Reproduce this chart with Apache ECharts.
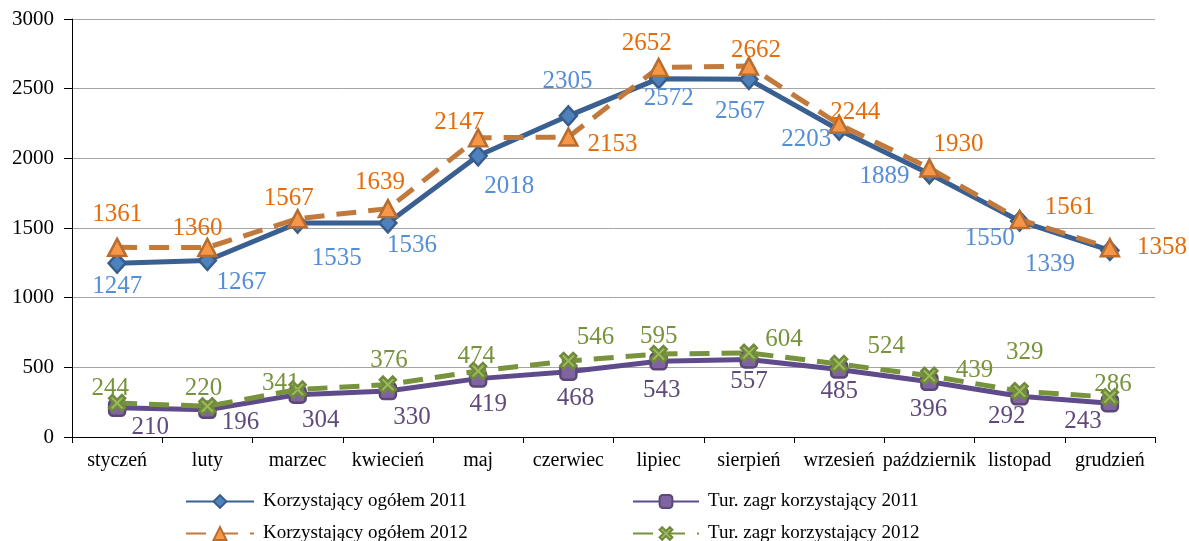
<!DOCTYPE html>
<html>
<head>
<meta charset="utf-8">
<title>Korzystający 2011-2012</title>
<script src="https://cdn.jsdelivr.net/npm/echarts@6/dist/echarts.min.js"></script>
<style>
  html, body { margin: 0; padding: 0; background: #fff; }
  #main { width: 1189px; height: 541px; }
</style>
</head>
<body>
<div id="main"></div>
<script>
// NOTE - Data

const months = ['styczeń', 'luty', 'marzec', 'kwiecień', 'maj', 'czerwiec',
  'lipiec', 'sierpień', 'wrzesień', 'październik', 'listopad', 'grudzień'];

const ogolem2011 = [1247, 1267, 1535, 1536, 2018, 2305, 2572, 2567, 2203, 1889, 1550, 1339];
const ogolem2012 = [1361, 1360, 1567, 1639, 2147, 2153, 2652, 2662, 2244, 1930, 1561, 1358];
const zagr2011 = [210, 196, 304, 330, 419, 468, 543, 557, 485, 396, 292, 243];
const zagr2012 = [244, 220, 341, 376, 474, 546, 595, 604, 524, 439, 329, 286];

const yTicks = { min: 0, max: 3000, step: 500 };

// NOTE - Label placement (offset from marker centre, px)

const offOgolem2011 = [[0, 23], [34, 22], [39, 35], [24, 22], [31, 31], [-1, -34],
  [10, 20], [-9, 32], [-33, 9], [-45, 3], [-30, 17], [-60, 14]];
const offOgolem2012 = [[0, -33], [-10, -19], [-9, -20], [-8, -26], [-19, -15], [44, 7],
  [-12, -24], [7, -16], [16, -12], [29, -24], [50, -12], [52, 0]];
const offZagr2011 = [[33, 20], [33, 13], [23, 26], [24, 26], [10, 26], [7, 27],
  [3, 29], [0, 22], [0, 22], [-1, 28], [-13, 20], [-27, 18]];
const offZagr2012 = [[-7, -15], [-4, -18], [-17, -6], [1, -24], [-2, -15], [27, -23],
  [0, -18], [35, -13], [47, -18], [45, -5], [5, -39], [3, -13]];

const FONT = '"Liberation Serif", "Times New Roman", serif';
const crossPath = 'path://M2,0 L5,3 L8,0 L10,2 L7,5 L10,8 L8,10 L5,7 L2,10 L0,8 L3,5 L0,2 Z';

function withLabels(values, offsets) {
  return values.map((v, i) => ({ value: v, label: { offset: offsets[i] } }));
}

function makeSeries(name, values, offsets, lineColor, dash, symbol, size, fill, border, labelColor, z) {
  return {
    name: name,
    type: 'line',
    z: z,
    data: withLabels(values, offsets),
    symbol: symbol,
    symbolSize: size,
    showAllSymbol: true,
    lineStyle: { color: lineColor, width: 5, type: dash },
    itemStyle: { color: fill, borderColor: border, borderWidth: 2.5 },
    label: {
      show: true,
      position: 'inside',
      color: labelColor,
      fontFamily: FONT,
      fontSize: 25
    },
    emphasis: { disabled: true },
    animation: false
  };
}

// NOTE - eCharts Init

var myChart = echarts.init(document.getElementById('main'));

var legendText = { fontFamily: FONT, fontSize: 19, color: '#000', padding: [0, 0, 0, 4] };

var option = {
  backgroundColor: '#ffffff',
  animation: false,
  grid: { left: 72, right: 34, top: 19, bottom: 104, containLabel: false },
  legend: [
    {
      data: ['Korzystający ogółem 2011', 'Korzystający ogółem 2012'],
      orient: 'vertical',
      left: 185,
      top: 492,
      height: 80,
      padding: 0,
      itemWidth: 68,
      itemHeight: 16,
      itemGap: 13,
      textStyle: legendText
    },
    {
      data: ['Tur. zagr korzystający 2011', 'Tur. zagr korzystający 2012'],
      orient: 'vertical',
      left: 632,
      top: 492,
      height: 80,
      padding: 0,
      itemWidth: 66,
      itemHeight: 16,
      itemGap: 13,
      textStyle: legendText
    }
  ],
  xAxis: {
    type: 'category',
    data: months,
    boundaryGap: true,
    axisLine: { lineStyle: { color: '#000', width: 1 } },
    axisTick: { show: true, length: 6, interval: 0, lineStyle: { color: '#000' } },
    axisLabel: { interval: 0, margin: 14, color: '#000', fontFamily: FONT, fontSize: 20 },
    splitLine: { show: false }
  },
  yAxis: {
    type: 'value',
    min: yTicks.min,
    max: yTicks.max,
    interval: yTicks.step,
    axisLine: { show: true, lineStyle: { color: '#000', width: 1 } },
    axisTick: { show: true, length: 8, lineStyle: { color: '#000' } },
    axisLabel: {
      margin: 18, color: '#000', fontFamily: FONT, fontSize: 21,
      formatter: v => String(v)
    },
    splitLine: { show: true, lineStyle: { color: '#a6a6a6', width: 1 } }
  },
  series: [
    makeSeries('Korzystający ogółem 2011', ogolem2011, offOgolem2011,
      '#3a5f91', 'solid', 'diamond', [17, 19], '#4f81bd', '#385d8a', '#558ed5', 3),
    makeSeries('Tur. zagr korzystający 2011', zagr2011, offZagr2011,
      '#5f4b8b', 'solid', 'roundRect', 16, '#8064a2', '#5c4776', '#604a7b', 3),
    makeSeries('Korzystający ogółem 2012', ogolem2012, offOgolem2012,
      '#c27a3c', [20, 12], 'triangle', [18, 17], '#f79646', '#b66d31', '#e46c0a', 4),
    makeSeries('Tur. zagr korzystający 2012', zagr2012, offZagr2012,
      '#77933c', [20, 12], crossPath, 16, '#9bbb59', '#71893f', '#77933c', 4)
  ]
};

myChart.setOption(option);
</script>
</body>
</html>
